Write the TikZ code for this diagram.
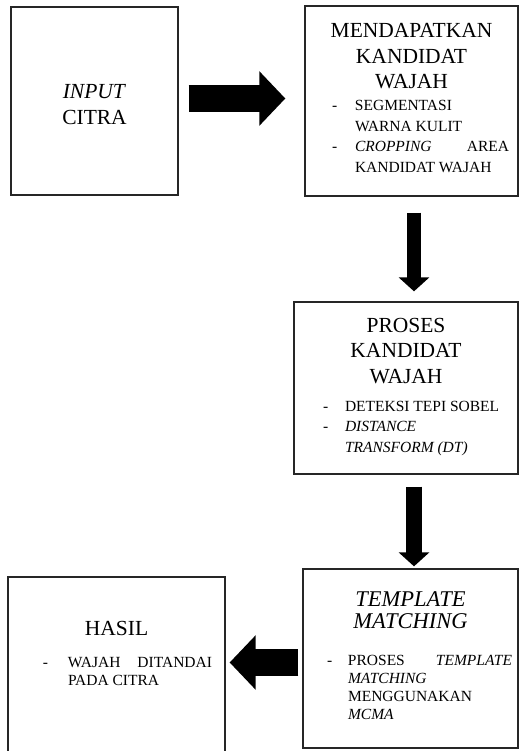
\documentclass[tikz,border=0pt]{standalone}
\usepackage{fontspec}
\setmainfont{Liberation Serif}
\usepackage{array}
\usetikzlibrary{arrows.meta}

\begin{document}
\begin{tikzpicture}[x=1pt,y=-1pt,
        box/.style={draw=black!85,line width=1.3pt,rectangle,inner sep=0pt,align=center},
        bigarrow/.style={line width=27pt,-{Triangle[length=26pt,width=53pt]}},
        smallarrow/.style={line width=15pt,-{Triangle[length=14pt,width=30pt]}}]
        \useasboundingbox (0,0) rectangle (521,751);
        % boxes
        \draw (94.5,101) node[box,minimum width=167pt,minimum height=188pt,text width=167pt,
              font=\fontsize{21.5}{26}\selectfont] (input) {\rule{0pt}{20.5pt}\textit{INPUT}\\CITRA};
        \draw (411.5,101) node[box,minimum width=213pt,minimum height=190pt,text width=213pt,
              font=\fontsize{21.5}{25.5}\selectfont] (kandidat)
              {MENDAPATKAN\\KANDIDAT\\WAJAH\par\vspace{-3.5pt}
               \makebox[213pt][l]{\hspace*{27pt}\fontsize{15.5}{20.5}\selectfont
               \begin{tabular}[t]{@{}p{23pt}@{}>{\spaceskip=0pt\xspaceskip=0pt\hyphenpenalty=10000}p{154pt}@{}}
               - & SEGMENTASI\\
                 & WARNA KULIT\\
               - & \textit{CROPPING}\hfill AREA\\
                 & KANDIDAT WAJAH
               \end{tabular}}};
        \draw (406,388) node[box,minimum width=224pt,minimum height=172pt,text width=224pt,
              font=\fontsize{21.5}{25.5}\selectfont] (proses)
              {PROSES\\KANDIDAT\\WAJAH\par\vspace{2.5pt}
               \makebox[224pt][l]{\hspace*{29pt}\fontsize{15.5}{20.5}\selectfont
               \begin{tabular}[t]{@{}p{22pt}@{}>{\spaceskip=0pt\xspaceskip=0pt\hyphenpenalty=10000}p{160pt}@{}}
               - & DETEKSI TEPI SOBEL\\
               - & \textit{DISTANCE}\\
                 & \textit{TRANSFORM (DT)}
               \end{tabular}}};
        \draw (410.5,658.5) node[box,minimum width=215pt,minimum height=179pt,text width=215pt,
              font=\fontsize{22.5}{22}\selectfont] (template)
              {\textit{TEMPLATE}\\\textit{MATCHING}\par\vspace{15pt}
               \makebox[215pt][l]{\hspace*{24pt}\fontsize{15.5}{18}\selectfont
               \begin{tabular}[t]{@{}p{21pt}@{}>{\spaceskip=0pt\xspaceskip=0pt\hyphenpenalty=10000}p{164pt}@{}}
               - & PROSES\hfill\textit{TEMPLATE}\\
                 & \textit{MATCHING}\\
                 & MENGGUNAKAN\\
                 & \textit{MCMA}
               \end{tabular}}};
        \draw (116.5,665) node[box,minimum width=217pt,minimum height=176pt,text width=217pt,
              font=\fontsize{21.5}{25.5}\selectfont] (hasil)
              {HASIL\par\vspace{6.5pt}
               \makebox[217pt][l]{\hspace*{35pt}\fontsize{15.5}{18}\selectfont
               \begin{tabular}[t]{@{}p{25pt}@{}>{\spaceskip=0pt\xspaceskip=0pt\hyphenpenalty=10000}p{144pt}@{}}
               - & WAJAH\hfill DITANDAI\\
                 & PADA CITRA\\[18pt]
               \end{tabular}}};
        % arrows
        \draw[bigarrow,shorten <=10pt,shorten >=19pt] ([yshift=2.5pt]input.east) -- ([yshift=2.5pt]input.east -| kandidat.west);
        \draw[smallarrow,line width=14pt,shorten <=16pt,shorten >=10pt] ([xshift=2.5pt]kandidat.south) -- ([xshift=2.5pt]kandidat.south |- proses.north);
        \draw[smallarrow,line width=16pt,shorten <=12pt,shorten >=2pt] ([xshift=3.5pt]template.north |- proses.south) -- ([xshift=3.5pt]template.north);
        \draw[bigarrow,shorten <=4pt,shorten >=4pt] ([yshift=-4pt]template.west) -- ([yshift=-4pt]template.west -| hasil.east);
    \end{tikzpicture}
\end{document}
